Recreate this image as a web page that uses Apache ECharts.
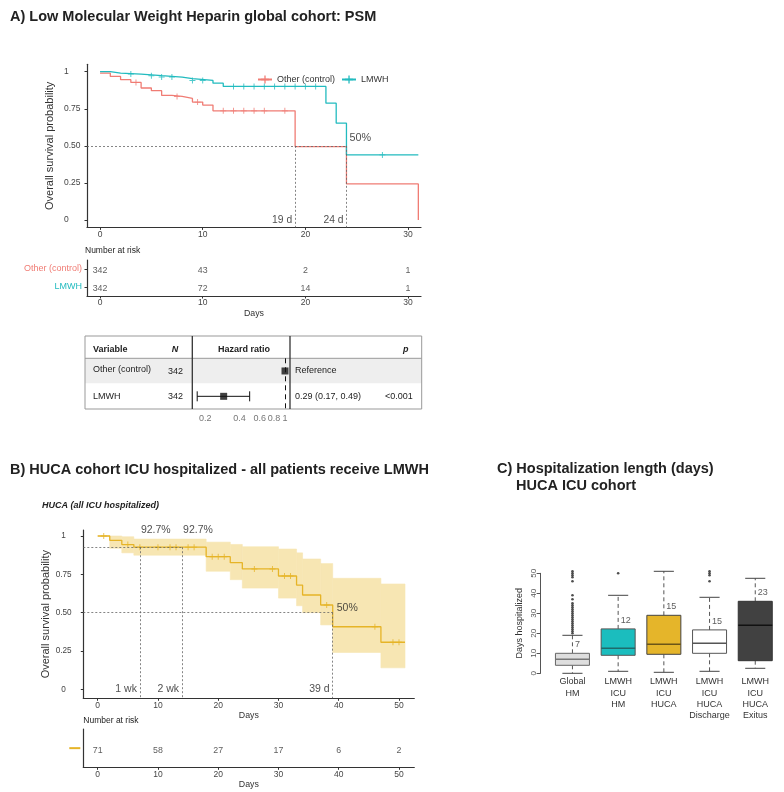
<!DOCTYPE html>
<html><head><meta charset="utf-8">
<script src="https://cdn.jsdelivr.net/npm/echarts@6.0.0/dist/echarts.min.js"></script>
<style>html,body{margin:0;padding:0;background:#fff;}#chart{width:784px;height:792px;}</style>
</head><body><div id="chart"></div>
<script>
const FONT = '"Liberation Sans", Arial, Helvetica, sans-serif';
const RED = '#F07C74', TEAL = '#22BBBF', GOLD = '#E6B427', BAND = '#F7E6B3';

// ---------- Panel A : Kaplan-Meier (PSM cohort) ----------
const aCtrlTime = [0, 1, 2, 3, 4, 5, 6, 7, 8, 9, 10, 11, 19, 24, 31];
const aCtrlSurv = [0.991, 0.968, 0.946, 0.928, 0.89, 0.872, 0.84, 0.833, 0.82, 0.795, 0.775, 0.736, 0.495, 0.243, 0];
const aLmwhTime = [0, 1, 2, 4, 6, 8, 9, 11, 12, 22, 23, 24, 31];
const aLmwhSurv = [1, 0.991, 0.984, 0.973, 0.964, 0.953, 0.941, 0.923, 0.901, 0.788, 0.653, 0.439, 0.439];
const aCtrlCensor = [3.5, 7.5, 9.5, 12, 13, 14, 15, 16, 18];
const aLmwhCensor = [3, 5, 6, 7, 9, 10, 13, 14, 15, 16, 17, 18, 19, 20, 21, 27.5];
const aMedians = [19, 24];
const aMedianLabels = ['19 d', '24 d'];
const aXTicks = [0, 10, 20, 30];
const aYTicks = [0, 0.25, 0.5, 0.75, 1];
const aYTickLabels = ['0', '0.25', '0.50', '0.75', '1'];
const aSeriesNames = ['Other (control)', 'LMWH'];
// risk table A
const aRiskTimes = [0, 10, 20, 30];
const aRiskCtrl = [342, 43, 2, 1];
const aRiskLmwh = [342, 72, 14, 1];

// ---------- Forest plot ----------
const fVars = ['Other (control)', 'LMWH'];
const fN = ['342', '342'];
const fHR = [1, 0.29];
const fLo = [null, 0.17];
const fHi = [null, 0.49];
const fText = ['Reference', '0.29 (0.17, 0.49)'];
const fP = ['', '<0.001'];
const fTicks = [0.2, 0.4, 0.6, 0.8, 1];

// ---------- Panel B : KM HUCA ICU ----------
const bTime  = [0, 2, 4, 6, 18, 22, 24, 30, 33, 34, 37, 39, 47, 51];
const bSurv  = [1, 0.972, 0.944, 0.927, 0.865, 0.826, 0.785, 0.739, 0.68, 0.615, 0.55, 0.408, 0.307, 0.307];
const bUpper = [1, 1, 0.995, 0.98, 0.96, 0.945, 0.93, 0.915, 0.89, 0.85, 0.82, 0.724, 0.687, 0.687];
const bLower = [1, 0.92, 0.89, 0.875, 0.77, 0.715, 0.66, 0.595, 0.545, 0.5, 0.42, 0.24, 0.14, 0.14];
const bCensor = [1, 5, 7, 10, 12, 13, 15, 16, 19, 20, 21, 26, 29, 31, 32, 38, 46, 49, 50];
const bWeeks = [7, 14];
const bWeekLabels = ['1 wk', '2 wk'];
const bWeekPct = 0.927;
const bWeekPctLabel = '92.7%';
const bMedian = 39;
const bMedianLabel = '39 d';
const bXTicks = [0, 10, 20, 30, 40, 50];
const bRiskTimes = [0, 10, 20, 30, 40, 50];
const bRisk = [71, 58, 27, 17, 6, 2];

// ---------- Panel C : boxplots ----------
const boxCats = ['Global\nHM', 'LMWH\nICU\nHM', 'LMWH\nICU\nHUCA', 'LMWH\nICU\nHUCA\nDischarge', 'LMWH\nICU\nHUCA\nExitus'];
const boxMin = [0, 1, 0.5, 1, 2.5];
const boxQ1  = [4, 9, 9.5, 10, 6.3];
const boxMed = [7, 12.5, 14.5, 15, 24];
const boxQ3  = [10, 22.2, 29, 21.7, 36];
const boxMax = [19, 39, 51, 38, 47.5];
const boxLabels = ['7', '12', '15', '15', '23'];
const outGlobal = [20,21,22,23,24,25,26,27,28,29,30,31,32,33,34,35,37,39,46,48,49,50,51];
const outHM = [50];
const outDischarge = [46, 49, 50, 51];
const boxFill = ['#DEDEDE', '#1BBDBE', '#E5B52A', '#FFFFFF', '#414141'];
const boxStroke = ['#666', '#555', '#444', '#555', '#333'];
const boxMedColor = ['#777', '#1F6B6B', '#6B5517', '#555', '#111'];

// ---------- helpers ----------
const PLUS = 'path://M0,4.2H10V5.8H0Z M4.2,0H5.8V10H4.2Z';
function pairs(t, s) { return t.map((x, i) => [x, s[i]]); }
function survAt(t, s, x) { let v = s[0]; for (let i = 0; i < t.length; i++) if (t[i] <= x) v = s[i]; return v; }
function dashed(lines) {
  return { silent: true, symbol: ['none', 'none'], label: { show: false }, animation: false,
    lineStyle: { type: [2, 2], color: '#666', width: 0.8 },
    data: lines.map(l => [{ coord: l[0] }, { coord: l[1] }]) };
}
function txt(x, y, s, size, o) {
  o = o || {};
  return { type: 'text', silent: true, style: { x: x, y: y, text: s,
    font: (o.style || '') + ' ' + (o.weight || 'normal') + ' ' + size + 'px ' + FONT,
    fill: o.fill || '#222', align: o.align || 'left', verticalAlign: 'middle' } };
}
function line(x1, y1, x2, y2, stroke, w) {
  return { type: 'line', silent: true, shape: { x1, y1, x2, y2 }, style: { stroke, lineWidth: w } };
}
const axCol = '#333';
function valX(grid, min, max, ticks, o) {
  o = o || {};
  return Object.assign({ gridIndex: grid, type: 'value', min, max,
    axisLine: { show: true, onZero: false, lineStyle: { color: axCol, width: 1.2 } },
    axisTick: { show: true, length: 2.5, customValues: ticks, lineStyle: { color: axCol } },
    axisLabel: { customValues: ticks, fontSize: 8.5, color: '#444', margin: 2.5, fontFamily: FONT },
    splitLine: { show: false } }, o);
}

const aXMin = -1.27, aXMax = 31.26, aYMin = -0.05, aYMax = 1.05;
const bXMin = -2.39, bXMax = 52.54, bYMin = -0.0587, bYMax = 1.0391;

const option = {
  animation: false,
  backgroundColor: '#ffffff',
  textStyle: { fontFamily: FONT },
  legend: { data: aSeriesNames, left: 252, top: 70, itemWidth: 14, itemHeight: 10, itemGap: 6,
    selectedMode: false, textStyle: { fontSize: 9, color: '#333', fontFamily: FONT } },
  grid: [
    { left: 87, top: 64.3, width: 334, height: 163.1 },     // 0 KM A
    { left: 87, top: 260, width: 334, height: 36 },         // 1 risk A
    { left: 192.3, top: 358.3, width: 97.7, height: 50.7 }, // 2 forest
    { left: 83.3, top: 530, width: 331, height: 168.3 },    // 3 KM B
    { left: 83.3, top: 729, width: 331, height: 38.3 },     // 4 risk B
    { left: 549.6, top: 573.3, width: 228.5, height: 100 }  // 5 boxplot C
  ],
  xAxis: [
    valX(0, aXMin, aXMax, aXTicks),
    valX(1, aXMin, aXMax, aXTicks, { name: 'Days', nameLocation: 'middle', nameGap: 13.5,
      nameTextStyle: { fontSize: 8.8, color: '#333' } }),
    { gridIndex: 2, type: 'log', logBase: 10, min: 0.154, max: 1.106,
      axisLine: { show: false }, axisTick: { show: false }, splitLine: { show: false },
      axisLabel: { customValues: fTicks, formatter: v => String(+v.toFixed(2)), fontSize: 9, color: '#777', margin: 5 } },
    valX(3, bXMin, bXMax, bXTicks, { name: 'Days', nameLocation: 'middle', nameGap: 10.5,
      nameTextStyle: { fontSize: 8.8, color: '#333' } }),
    valX(4, bXMin, bXMax, bXTicks, { name: 'Days', nameLocation: 'middle', nameGap: 10,
      nameTextStyle: { fontSize: 8.8, color: '#333' } }),
    { gridIndex: 5, type: 'category', data: boxCats, axisLine: { show: false }, axisTick: { show: false },
      axisLabel: { interval: 0, fontSize: 9, lineHeight: 11.3, color: '#333', margin: 3 } }
  ],
  yAxis: [
    { gridIndex: 0, type: 'value', min: aYMin, max: aYMax,
      axisLine: { show: true, onZero: false, lineStyle: { color: axCol, width: 1.2 } },
      axisTick: { show: true, length: 2.5, customValues: aYTicks, lineStyle: { color: axCol } },
      axisLabel: { customValues: aYTicks, formatter: v => aYTickLabels[aYTicks.indexOf(v)], align: 'left', margin: 23, fontSize: 8.5, color: '#444' },
      splitLine: { show: false },
      name: 'Overall survival probability', nameLocation: 'middle', nameGap: 31.5,
      nameTextStyle: { fontSize: 11, color: '#333' } },
    { gridIndex: 1, type: 'category', data: ['LMWH', 'Other (control)'],
      axisLine: { show: true, onZero: false, lineStyle: { color: axCol, width: 1.2 } },
      axisTick: { show: true, length: 2.5, alignWithLabel: true, lineStyle: { color: axCol } },
      axisLabel: { fontSize: 9, margin: 5, color: (v) => v === 'LMWH' ? TEAL : RED } },
    { gridIndex: 2, type: 'category', data: fVars, inverse: true, show: false },
    { gridIndex: 3, type: 'value', min: bYMin, max: bYMax,
      axisLine: { show: true, onZero: false, lineStyle: { color: axCol, width: 1.2 } },
      axisTick: { show: true, length: 2.5, customValues: aYTicks, lineStyle: { color: axCol } },
      axisLabel: { customValues: aYTicks, formatter: v => aYTickLabels[aYTicks.indexOf(v)], align: 'center', margin: 19.7, fontSize: 8.2, color: '#444' },
      splitLine: { show: false },
      name: 'Overall survival probability', nameLocation: 'middle', nameGap: 29.5,
      nameTextStyle: { fontSize: 11, color: '#333' } },
    { gridIndex: 4, type: 'category', data: ['HUCA'],
      axisLine: { show: true, onZero: false, lineStyle: { color: axCol, width: 1.2 } },
      axisTick: { show: false },
      axisLabel: { margin: 3, formatter: () => '{l| }', rich: { l: { width: 11, height: 2, backgroundColor: GOLD } } } },
    { gridIndex: 5, type: 'value', min: 0, max: 50, interval: 10, offset: 9,
      axisLine: { show: true, onZero: false, lineStyle: { color: '#555', width: 1 } },
      axisTick: { show: true, length: 4, lineStyle: { color: '#555' } },
      axisLabel: { rotate: 90, fontSize: 8, color: '#555', margin: 3 },
      splitLine: { show: false },
      name: 'Days hospitalized', nameLocation: 'middle', nameGap: 17,
      nameTextStyle: { fontSize: 9, color: '#333' } }
  ],
  series: [
    { name: aSeriesNames[0], type: 'line', xAxisIndex: 0, yAxisIndex: 0, step: 'end',
      data: pairs(aCtrlTime, aCtrlSurv), color: RED, symbol: PLUS, showSymbol: false,
      lineStyle: { width: 1.3, color: RED }, z: 3,
      markLine: dashed([[[aXMin, 0.5], [aMedians[1], 0.5]], [[aMedians[0], 0.5], [aMedians[0], aYMin]], [[aMedians[1], 0.5], [aMedians[1], aYMin]]]) },
    { name: aSeriesNames[1], type: 'line', xAxisIndex: 0, yAxisIndex: 0, step: 'end',
      data: pairs(aLmwhTime, aLmwhSurv), color: TEAL, symbol: PLUS, showSymbol: false,
      lineStyle: { width: 1.3, color: TEAL }, z: 3 },
    { name: 'ctrl-censor', type: 'scatter', xAxisIndex: 0, yAxisIndex: 0, symbol: PLUS, symbolSize: 6,
      itemStyle: { color: RED }, data: aCtrlCensor.map(t => [t, survAt(aCtrlTime, aCtrlSurv, t)]), z: 4 },
    { name: 'lmwh-censor', type: 'scatter', xAxisIndex: 0, yAxisIndex: 0, symbol: PLUS, symbolSize: 6,
      itemStyle: { color: TEAL }, data: aLmwhCensor.map(t => [t, survAt(aLmwhTime, aLmwhSurv, t)]), z: 4 },
    { name: 'a-annot', type: 'scatter', xAxisIndex: 0, yAxisIndex: 0, symbolSize: 0, silent: true,
      label: { show: true, fontSize: 10.3, color: '#222', fontFamily: FONT },
      data: [
        { value: [aMedians[0], 0], label: { formatter: aMedianLabels[0], position: 'left', distance: 3 } },
        { value: [aMedians[1], 0], label: { formatter: aMedianLabels[1], position: 'left', distance: 3 } },
        { value: [aMedians[1], 0.5], label: { formatter: '50%', position: [3, -13], fontSize: 10.8 } }
      ] },
    { name: 'a-risk', type: 'scatter', xAxisIndex: 1, yAxisIndex: 1, symbolSize: 0, silent: true,
      label: { show: true, position: 'inside', offset: [0, 1.5], fontSize: 8.8, color: '#333', formatter: p => p.value[2] },
      data: aRiskTimes.map((t, i) => [t, 'Other (control)', aRiskCtrl[i]]).concat(aRiskTimes.map((t, i) => [t, 'LMWH', aRiskLmwh[i]])) },
    { name: 'forest-ci', type: 'custom', xAxisIndex: 2, yAxisIndex: 2, silent: true,
      encode: { x: [0, 1], y: 2 },
      data: fLo.map((v, i) => v == null ? null : [fLo[i], fHi[i], i]).filter(d => d),
      renderItem: (params, api) => {
        const a = api.coord([api.value(0), api.value(2)]);
        const b = api.coord([api.value(1), api.value(2)]);
        const st = { stroke: '#111', lineWidth: 1 };
        return { type: 'group', children: [
          { type: 'line', shape: { x1: a[0], y1: a[1], x2: b[0], y2: b[1] }, style: st },
          { type: 'line', shape: { x1: a[0], y1: a[1] - 5, x2: a[0], y2: a[1] + 5 }, style: st },
          { type: 'line', shape: { x1: b[0], y1: b[1] - 5, x2: b[0], y2: b[1] + 5 }, style: st }
        ] };
      } },
    { name: 'forest-hr', type: 'scatter', xAxisIndex: 2, yAxisIndex: 2, symbol: 'rect', symbolSize: 7,
      itemStyle: { color: '#111' }, z: 5, data: fHR.map((v, i) => [v, fVars[i]]),
      markLine: { silent: true, symbol: ['none', 'none'], label: { show: false },
        lineStyle: { type: [5, 4], color: '#111', width: 1 }, data: [{ xAxis: 1 }] } },
    { name: 'b-band', type: 'custom', xAxisIndex: 3, yAxisIndex: 3, silent: true, z: 1,
      encode: { x: [0, 1], y: [2, 3] },
      data: bTime.slice(0, -1).map((t, i) => [t, bTime[i + 1], bLower[i], bUpper[i]]),
      renderItem: (params, api) => {
        const p1 = api.coord([api.value(0), api.value(3)]);
        const p2 = api.coord([api.value(1), api.value(2)]);
        return { type: 'rect', shape: { x: p1[0], y: p1[1], width: p2[0] - p1[0], height: p2[1] - p1[1] },
          style: { fill: BAND, stroke: BAND, lineWidth: 0.6 } };
      } },
    { name: 'HUCA', type: 'line', xAxisIndex: 3, yAxisIndex: 3, step: 'end', data: pairs(bTime, bSurv),
      color: GOLD, showSymbol: false, lineStyle: { width: 1.3, color: GOLD }, z: 3,
      markLine: dashed([[[bXMin, bWeekPct], [bWeeks[1], bWeekPct]], [[bWeeks[0], bWeekPct], [bWeeks[0], bYMin]],
        [[bWeeks[1], bWeekPct], [bWeeks[1], bYMin]], [[bXMin, 0.5], [bMedian, 0.5]], [[bMedian, 0.5], [bMedian, bYMin]]]) },
    { name: 'b-censor', type: 'scatter', xAxisIndex: 3, yAxisIndex: 3, symbol: PLUS, symbolSize: 6,
      itemStyle: { color: GOLD }, z: 4, data: bCensor.map(t => [t, survAt(bTime, bSurv, t)]) },
    { name: 'b-annot', type: 'scatter', xAxisIndex: 3, yAxisIndex: 3, symbolSize: 0, silent: true,
      label: { show: true, fontSize: 10.5, color: '#222', fontFamily: FONT },
      data: [
        { value: [bWeeks[0], bWeekPct], label: { formatter: bWeekPctLabel, position: [1, -23] } },
        { value: [bWeeks[1], bWeekPct], label: { formatter: bWeekPctLabel, position: [1, -23] } },
        { value: [bMedian, 0.5], label: { formatter: '50%', position: [4, -10] } },
        { value: [bWeeks[0], 0], label: { formatter: bWeekLabels[0], position: 'left', distance: 3 } },
        { value: [bWeeks[1], 0], label: { formatter: bWeekLabels[1], position: 'left', distance: 3 } },
        { value: [bMedian, 0], label: { formatter: bMedianLabel, position: 'left', distance: 3 } }
      ] },
    { name: 'b-risk', type: 'scatter', xAxisIndex: 4, yAxisIndex: 4, symbolSize: 0, silent: true,
      label: { show: true, position: 'inside', offset: [0, 2], fontSize: 8.8, color: '#333', formatter: p => p.value[2] },
      data: bRiskTimes.map((t, i) => [t, 'HUCA', bRisk[i]]) },
    { name: 'boxes', type: 'custom', xAxisIndex: 5, yAxisIndex: 5, silent: true,
      encode: { x: 0, y: [1, 2, 3, 4, 5] },
      data: boxCats.map((c, i) => [i, boxMin[i], boxQ1[i], boxMed[i], boxQ3[i], boxMax[i]]),
      renderItem: (params, api) => {
        const i = api.value(0);
        const x = api.coord([i, 0])[0];
        const bw = api.size([1, 0])[0];
        const hb = bw * 0.372, hc = bw * 0.22;
        const y = k => api.coord([i, api.value(k)])[1];
        const yMin = y(1), yQ1 = y(2), yMed = y(3), yQ3 = y(4), yMax = y(5);
        const stroke = boxStroke[i];
        return { type: 'group', children: [
          { type: 'line', shape: { x1: x, y1: yQ3, x2: x, y2: yMax }, style: { stroke: '#555', lineWidth: 1, lineDash: [4, 3] } },
          { type: 'line', shape: { x1: x, y1: yQ1, x2: x, y2: yMin }, style: { stroke: '#555', lineWidth: 1, lineDash: [4, 3] } },
          { type: 'line', shape: { x1: x - hc, y1: yMax, x2: x + hc, y2: yMax }, style: { stroke: '#444', lineWidth: 1 } },
          { type: 'line', shape: { x1: x - hc, y1: yMin, x2: x + hc, y2: yMin }, style: { stroke: '#444', lineWidth: 1 } },
          { type: 'rect', shape: { x: x - hb, y: yQ3, width: 2 * hb, height: yQ1 - yQ3 }, style: { fill: boxFill[i], stroke, lineWidth: 1 } },
          { type: 'line', shape: { x1: x - hb, y1: yMed, x2: x + hb, y2: yMed }, style: { stroke: boxMedColor[i], lineWidth: 1.6 } }
        ] };
      } },
    { name: 'outliers', type: 'scatter', xAxisIndex: 5, yAxisIndex: 5, symbol: 'circle', symbolSize: 2.6, clip: false,
      itemStyle: { color: '#222' }, silent: true,
      data: outGlobal.map(v => [0, v]).concat(outHM.map(v => [1, v]), outDischarge.map(v => [3, v])) },
    { name: 'box-labels', type: 'scatter', xAxisIndex: 5, yAxisIndex: 5, symbolSize: 0, silent: true, clip: false,
      label: { show: true, position: [2.5, -13], fontSize: 9, color: '#333', formatter: p => p.value[2] },
      data: boxLabels.map((s, i) => [i, boxQ3[i], s]) }
  ],
  graphic: { elements: [
    txt(10, 17, 'A) Low Molecular Weight Heparin global cohort: PSM', 14.5, { weight: 'bold', fill: '#222' }),
    txt(85, 250.4, 'Number at risk', 8.5, { fill: '#222' }),
    // forest table
    { type: 'rect', silent: true, z: -1, shape: { x: 85, y: 358.3, width: 336.7, height: 25 }, style: { fill: '#EEEEEE' } },
    { type: 'rect', silent: true, shape: { x: 85, y: 336, width: 336.7, height: 73 }, style: { fill: 'transparent', stroke: '#999', lineWidth: 1 } },
    line(85, 358.3, 421.7, 358.3, '#999', 1),
    line(192.3, 336, 192.3, 409, '#333', 1.3),
    line(290, 336, 290, 409, '#333', 1.3),
    txt(93, 349.2, 'Variable', 9, { weight: 'bold' }),
    txt(171.7, 349.2, 'N', 9, { weight: 'bold', style: 'italic' }),
    txt(244, 349.2, 'Hazard ratio', 9, { weight: 'bold', align: 'center' }),
    txt(403, 349.2, 'p', 9, { weight: 'bold', style: 'italic' }),
    txt(93, 369.7, fVars[0], 9), txt(168, 371.5, fN[0], 9), txt(295, 370.5, fText[0], 9),
    txt(93, 396.2, fVars[1], 9), txt(168, 396.7, fN[1], 9), txt(295, 396.2, fText[1], 9),
    txt(412.7, 396.2, fP[1], 9, { align: 'right' }),
    // panel B
    txt(10, 469.5, 'B) HUCA cohort ICU hospitalized - all patients receive LMWH', 14.5, { weight: 'bold', fill: '#222' }),
    txt(42, 505.9, 'HUCA (all ICU hospitalized)', 9, { weight: 'bold', style: 'italic' }),
    txt(83.3, 720.4, 'Number at risk', 8.5, { fill: '#222' }),
    // panel C
    txt(497, 468.8, 'C) Hospitalization length (days)', 14.5, { weight: 'bold', fill: '#222' }),
    txt(516, 485.5, 'HUCA ICU cohort', 14.5, { weight: 'bold', fill: '#222' })
  ] }
};

const chart = echarts.init(document.getElementById('chart'), null, { renderer: 'canvas', width: 784, height: 792 });
chart.setOption(option);
</script>
</body></html>
